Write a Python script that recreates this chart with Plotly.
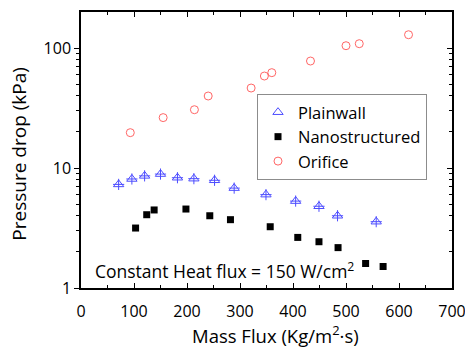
import plotly.graph_objects as go

# Data
plain_x = [71, 96, 120, 150, 182, 213, 252, 289, 349, 405, 449, 484, 557]
plain_y = [7.3, 8.1, 8.6, 8.9, 8.3, 8.15, 7.9, 6.8, 6.0, 5.3, 4.8, 4.0, 3.57]

nano_x = [103, 124, 138, 198, 243, 282, 357, 409, 449, 485, 537, 570]
nano_y = [3.16, 4.08, 4.47, 4.55, 4.0, 3.71, 3.24, 2.64, 2.43, 2.17, 1.60, 1.51]

orif_x = [93, 155, 214, 240, 321, 346, 360, 433, 500, 525, 618]
orif_y = [19.7, 26.3, 30.6, 39.8, 46.4, 58.4, 62.3, 77.9, 104.5, 108.6, 129]

x_ticks = [0, 100, 200, 300, 400, 500, 600, 700]
y_ticks = [1, 10, 100]
y_ticklabels = ["1", "10", "100"]

FONT = "Open Sans"
BLUE = "#4d4dff"
RED = "#ff6666"

fig = go.Figure()
fig.add_trace(go.Scatter(
    x=plain_x, y=plain_y, mode="markers", name="Plainwall", legendgroup="p",
    marker=dict(symbol="triangle-up-open", size=9, color=BLUE, line=dict(width=1, color=BLUE)),
))
fig.add_trace(go.Scatter(
    x=plain_x, y=plain_y, mode="markers", name="Plainwall", legendgroup="p", showlegend=False,
    marker=dict(symbol="cross-thin-open", size=8, color=BLUE, line=dict(width=1, color=BLUE)),
))
fig.add_trace(go.Scatter(
    x=nano_x, y=nano_y, mode="markers", name="Nanostructured",
    marker=dict(symbol="square", size=7, color="black", line=dict(width=0)),
))
fig.add_trace(go.Scatter(
    x=orif_x, y=orif_y, mode="markers", name="Orifice",
    marker=dict(symbol="circle-open", size=8, color=RED, line=dict(width=1, color=RED)),
))
# empty trace so the right-hand (mirror) axis is drawn
fig.add_trace(go.Scatter(x=[None], y=[None], yaxis="y2", showlegend=False, hoverinfo="skip"))

fig.add_annotation(
    x=22, y=0.142, xref="x", yref="y", xanchor="left", yanchor="middle",
    text="Constant Heat flux = 150 W/cm<sup>2</sup>", showarrow=False,
    font=dict(family=FONT, size=17.5, color="black"),
)
# axis titles
fig.add_annotation(
    x=0.525, y=-0.167, xref="paper", yref="paper", xanchor="center", yanchor="middle",
    text="Mass Flux (Kg/m<sup>2</sup>·s)", showarrow=False,
    font=dict(family=FONT, size=18.5, color="black"),
)
fig.add_annotation(
    x=-0.167, y=0.487, xref="paper", yref="paper", xanchor="center", yanchor="middle",
    text="Pressure drop (kPa)", showarrow=False, textangle=-90,
    font=dict(family=FONT, size=19, color="black"),
)

fig.update_layout(
    width=465, height=348,
    margin=dict(l=81, r=13, t=12, b=60),
    paper_bgcolor="white", plot_bgcolor="white",
    font=dict(family=FONT, color="black"),
    showlegend=True,
    legend=dict(
        x=0.4744, y=0.703, xanchor="left", yanchor="top",
        bgcolor="white", bordercolor="#8c8c8c", borderwidth=1,
        font=dict(family=FONT, size=16.5, color="black"),
        itemwidth=30, tracegroupgap=0,
    ),
    xaxis=dict(
        range=[0, 700], tickvals=x_ticks, showgrid=False, zeroline=False, automargin=False,
        showline=True, linecolor="black", linewidth=1.5, mirror="ticks",
        ticks="inside", ticklen=5, tickwidth=1.2, tickcolor="black",
        minor=dict(ticks="inside", ticklen=3, dtick=50, tickcolor="black", tickwidth=1, showgrid=False),
        tickfont=dict(family=FONT, size=16, color="black"),
        ticklabelstandoff=8, ticklabeloverflow="allow",
    ),
    yaxis=dict(
        type="log", range=[0, 2.3], tickvals=y_ticks, ticktext=y_ticklabels,
        showgrid=False, zeroline=False, automargin=False,
        showline=True, linecolor="black", linewidth=1.5, mirror=True,
        ticks="outside", ticklen=5, tickwidth=1.2, tickcolor="black",
        minor=dict(ticks="outside", ticklen=3, dtick="D1", tickcolor="black", tickwidth=1, showgrid=False),
        tickfont=dict(family=FONT, size=16, color="black"),
        ticklabeloverflow="allow",
    ),
    yaxis2=dict(
        type="log", range=[0, 2.3], overlaying="y", side="right", anchor="x", automargin=False,
        tickvals=y_ticks, showticklabels=False, showgrid=False, zeroline=False,
        showline=True, linecolor="black", linewidth=1.5,
        ticks="inside", ticklen=5, tickwidth=1.2, tickcolor="black",
        minor=dict(ticks="inside", ticklen=3, dtick="D1", tickcolor="black", tickwidth=1, showgrid=False),
    ),
)

fig.write_html("out.html")
